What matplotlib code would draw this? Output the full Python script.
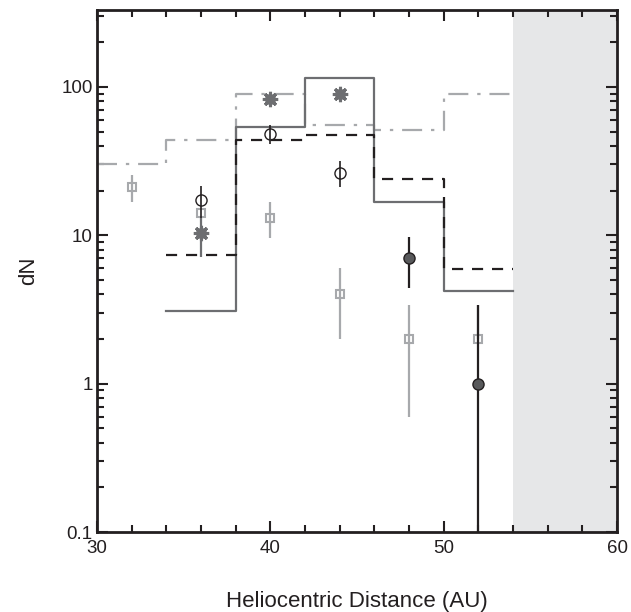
import numpy as np
import matplotlib
matplotlib.use('Agg')
import matplotlib.pyplot as plt
from matplotlib.ticker import MultipleLocator, LogLocator, NullFormatter, FixedLocator, FixedFormatter

plt.rcParams['font.family'] = ['Liberation Sans', 'DejaVu Sans']

# step histograms (bin edges + values)
edges_solid = [34, 38, 42, 46, 50, 54]
solid = [3.1, 54, 114, 16.8, 4.2]
edges_dash = [34, 38, 42, 46, 50, 54]
dashed = [7.4, 44, 47.5, 24, 5.9]
edges_dashdot = [30, 34, 38, 42, 46, 50, 54]
dashdot = [30, 44, 90, 55, 51, 89]

# light gray squares
sq_x = [32, 36, 40, 44, 48, 52]
sq_y = [21, 14.2, 13.1, 4.0, 2.0, 2.0]
sq_lo = [16.8, 14.2, 9.6, 2.0, 0.6, 2.0]
sq_hi = [25.5, 14.2, 16.8, 6.0, 3.4, 3.4]

# open black circles
oc_x = [36, 40, 44]
oc_y = [17.3, 48, 26.4]
oc_lo = [13, 41, 21.2]
oc_hi = [21.5, 55, 31.8]

# gray asterisks
st_x = [36, 40, 44]
st_y = [10.3, 83, 89]
st_lo = [7.1, 83, 89]
st_hi = [13, 83, 89]

# dark filled circles
fc_x = [48, 52]
fc_y = [7.0, 1.0]
fc_lo = [4.4, 0.01]
fc_hi = [9.8, 3.4]

fig = plt.figure(figsize=(6.31, 6.12), dpi=100)
ax = fig.add_axes([0.1537, 0.1307, 0.8243, 0.853])

ax.axvspan(54, 60, color='#e6e7e8', zorder=0, lw=0)

def step(edges, vals, **kw):
    xs, ys = [], []
    for i, v in enumerate(vals):
        xs += [edges[i], edges[i + 1]]
        ys += [v, v]
    ax.plot(xs, ys, **kw)

step(edges_dashdot, dashdot, color='#a7a9ac', lw=1.6, dashes=(9, 4, 1.5, 4), zorder=2)
step(edges_solid, solid, color='#6d6e71', lw=1.6, zorder=3)
step(edges_dash, dashed, color='#231f20', lw=1.6, dashes=(5, 4), zorder=3)

def errs(y, lo, hi):
    y = np.array(y)
    return [y - np.array(lo), np.array(hi) - y]

ax.errorbar(sq_x, sq_y, yerr=errs(sq_y, sq_lo, sq_hi), fmt='s', mfc='none',
            mec='#a7a9ac', mew=1.5, ms=6, ecolor='#a7a9ac', elinewidth=1.6,
            capsize=0, zorder=4)
ax.errorbar(oc_x, oc_y, yerr=errs(oc_y, oc_lo, oc_hi), fmt='o', mfc='none',
            mec='#231f20', mew=1.0, ms=8, ecolor='#231f20', elinewidth=1.2,
            capsize=0, zorder=5)
# asterisk blobs: filled disc plus spiky asterisk
ax.errorbar(st_x, st_y, yerr=errs(st_y, st_lo, st_hi), fmt='o', mfc='#6d6e71',
            mec='#6d6e71', ms=7, ecolor='#6d6e71', elinewidth=1.6,
            capsize=0, zorder=5)
ax.plot(st_x, st_y, ls='none', marker=(8, 2, 0), ms=11, mew=2.2,
        mec='#6d6e71', zorder=5)
ax.errorbar(fc_x, fc_y, yerr=errs(fc_y, fc_lo, fc_hi), fmt='o', mfc='#58595b',
            mec='#231f20', mew=1.0, ms=8, ecolor='#231f20', elinewidth=1.6,
            capsize=0, zorder=6)

ax.set_yscale('log')
ax.set_xlim(30, 60)
ax.set_ylim(0.1, 330)

ax.xaxis.set_major_locator(MultipleLocator(10))
ax.xaxis.set_minor_locator(MultipleLocator(2))
ax.yaxis.set_major_locator(FixedLocator([0.1, 1, 10, 100]))
ax.yaxis.set_major_formatter(FixedFormatter(['0.1', '1', '10', '100']))
ax.yaxis.set_minor_locator(LogLocator(base=10, subs=np.arange(2, 10)))
ax.yaxis.set_minor_formatter(NullFormatter())

ax.tick_params(which='both', direction='in', top=True, right=True,
               labelsize=13.5, width=1.5, color='#231f20', labelcolor='#231f20')
ax.tick_params(which='major', length=8)
ax.tick_params(axis='x', which='major', pad=6)
ax.tick_params(axis='y', which='major', pad=3)
ax.tick_params(which='minor', length=5)
for s in ax.spines.values():
    s.set_linewidth(2)
    s.set_color('#231f20')

ax.set_xlabel('Heliocentric Distance (AU)', fontsize=16, labelpad=24, color='#231f20')
ax.set_ylabel('dN', fontsize=16, labelpad=16, color='#231f20')

fig.savefig('out.png', dpi=100)
